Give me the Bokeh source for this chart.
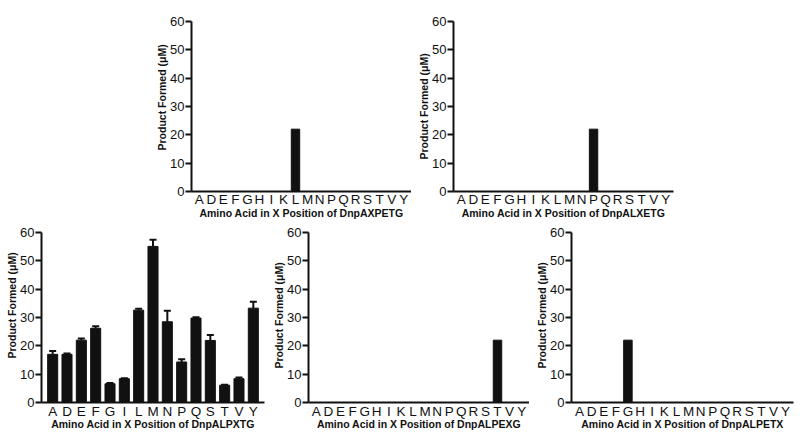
from bokeh.plotting import figure
from bokeh.layouts import row, column, Spacer
from bokeh.models import (ColumnDataSource, Whisker, TeeHead, Range1d,
                          FactorRange, FixedTicker, Title)
from bokeh.embed import file_html
from bokeh.resources import INLINE

FONT = "Liberation Sans"
INK = "#111111"

# ---- data ----
aa18 = ["A", "D", "E", "F", "G", "H", "I", "K", "L", "M", "N", "P", "Q", "R",
        "S", "T", "V", "Y"]
aa15 = ["A", "D", "E", "F", "G", "I", "L", "M", "N", "P", "Q", "S", "T", "V", "Y"]

axpetg_cat = ["L"]
axpetg_val = [22]
alxetg_cat = ["P"]
alxetg_val = [22]
alpexg_cat = ["T"]
alpexg_val = [22]
alpetx_cat = ["G"]
alpetx_val = [22]

alpxtg_val = [17.0, 17.0, 22.0, 26.2, 6.6, 8.4, 32.6, 55.1, 28.5, 14.3, 29.8,
              21.9, 6.1, 8.4, 33.3]
alpxtg_err = [1.2, 0.3, 0.6, 0.7, 0.3, 0.2, 0.5, 2.3, 3.9, 1.0, 0.3, 1.9, 0.2,
              0.4, 2.3]

y_ticks = [0, 10, 20, 30, 40, 50, 60]
y_label = "Product Formed (\u03bcM)"


def panel(factors, cats, vals, xlabel, left, right, frame_w, top, bottom, pad,
          xlabel_standoff, xtick_standoff, ylab_offset, err=None):
    p = figure(x_range=FactorRange(factors=factors, range_padding=pad,
                                   range_padding_units="absolute"),
               y_range=Range1d(0, 60), frame_width=frame_w, frame_height=170,
               min_border_left=left, min_border_right=right,
               min_border_top=top, min_border_bottom=bottom,
               output_backend="svg", toolbar_location=None,
               outline_line_color=None)
    p.vbar(x=cats, top=vals, width=0.7, fill_color=INK, line_color=INK)
    if err is not None:
        src = ColumnDataSource(dict(x=cats, lower=vals,
                                    upper=[v + e for v, e in zip(vals, err)]))
        p.add_layout(Whisker(base="x", lower="lower", upper="upper", source=src,
                             dimension="height", line_width=2, line_color=INK,
                             upper_head=TeeHead(size=7, line_width=2,
                                                line_color=INK),
                             lower_head=None))
    p.xgrid.visible = False
    p.ygrid.visible = False
    p.yaxis.ticker = FixedTicker(ticks=y_ticks)
    p.yaxis.minor_tick_line_color = None
    p.yaxis.major_tick_out = 6
    p.yaxis.major_tick_in = 0
    p.yaxis.major_tick_line_width = 2
    p.yaxis.major_tick_line_color = INK
    p.yaxis.major_label_standoff = 1
    p.yaxis.major_label_text_font_size = "13px"
    p.xaxis.major_label_text_font_size = "13.5px"
    p.xaxis.major_tick_line_color = None
    p.xaxis.minor_tick_line_color = None
    p.xaxis.major_tick_out = 0
    p.xaxis.major_tick_in = 0
    p.xaxis.major_label_standoff = xtick_standoff
    p.xaxis.axis_label = xlabel
    p.xaxis.axis_label_standoff = xlabel_standoff
    for ax in (p.xaxis, p.yaxis):
        ax.axis_line_width = 2
        ax.axis_line_color = INK
        ax.major_label_text_font = FONT
        ax.major_label_text_color = INK
        ax.axis_label_text_font = FONT
        ax.axis_label_text_font_size = "10.5px"
        ax.axis_label_text_font_style = "bold"
        ax.axis_label_text_color = INK
    # y-axis title, placed a little above the middle of the axis as in the original
    p.add_layout(Title(text=y_label, align="left", offset=ylab_offset,
                       vertical_align="bottom", standoff=0, text_font=FONT,
                       text_font_size="10.5px", text_font_style="bold",
                       text_color=INK), "left")
    return p


tl = panel(aa18, axpetg_cat, axpetg_val, "Amino Acid in X Position of DnpAXPETG",
           42, 0, 220, 21, 31, 0.15, -3, 0, 41)
tr = panel(aa18, alxetg_cat, alxetg_val, "Amino Acid in X Position of DnpALXETG",
           42, 2, 220, 21, 31, 0.15, -3, 0, 32)
bl = panel(aa15, aa15, alpxtg_val, "Amino Acid in X Position of DnpALPXTG",
           41, 1, 223, 10, 32, 0.28, -4, 1, 44, err=alpxtg_err)
bm = panel(aa18, alpexg_cat, alpexg_val, "Amino Acid in X Position of DnpALPEXG",
           42, 0, 221, 10, 32, 0.15, -4, 1, 34)
br = panel(aa18, alpetx_cat, alpetx_val, "Amino Acid in X Position of DnpALPETX",
           42, 2, 222, 10, 32, 0.15, -4, 1, 34)

layout = column(
    row(Spacer(width=149, height=222), tl, tr),
    row(bl, Spacer(width=1, height=212), bm, br),
)

open("out.html", "w").write(file_html(layout, INLINE))
